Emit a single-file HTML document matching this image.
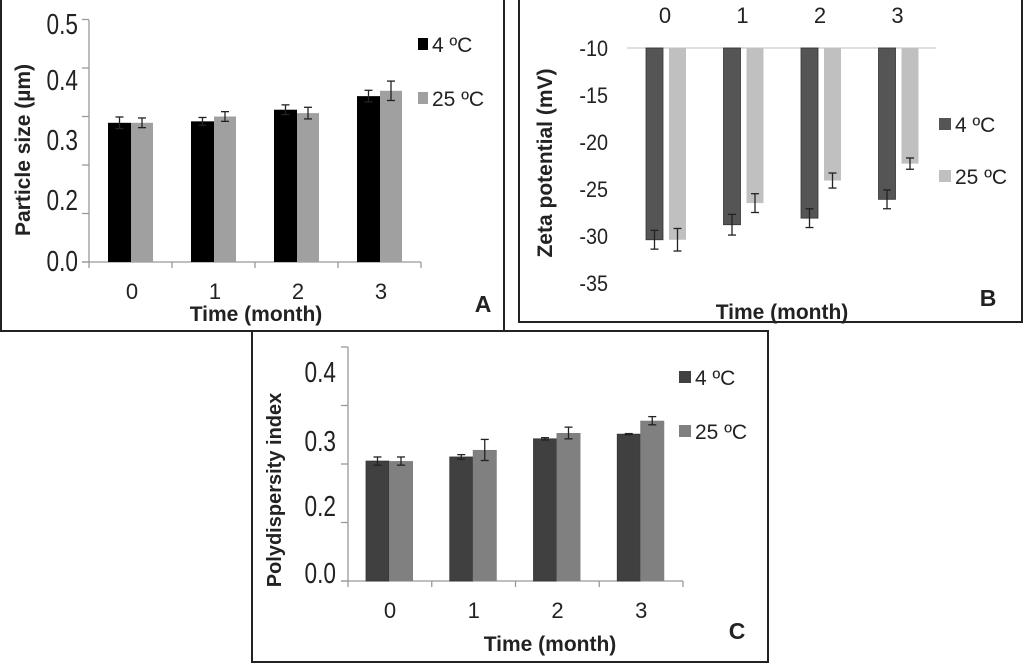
<!DOCTYPE html>
<html><head><meta charset="utf-8"><style>
html,body{margin:0;padding:0;background:#fff;width:1024px;height:664px;overflow:hidden}
svg{display:block;font-family:"Liberation Sans",Arial,sans-serif}
</style></head><body>
<svg id="s" width="1024" height="664" viewBox="0 0 1024 664">
<rect x="1" y="-1" width="503" height="332" fill="none" stroke="#222" stroke-width="2"/>
<rect x="519" y="-1" width="503" height="323" fill="none" stroke="#222" stroke-width="2"/>
<rect x="252" y="331" width="516" height="331" fill="#fff" stroke="#222" stroke-width="2"/>
</svg>
<script>
const months=["0","1","2","3"];
const aCold=[0.287,0.290,0.314,0.342], aWarm=[0.287,0.300,0.307,0.353];
const aColdErr=[0.012,0.008,0.01,0.012], aWarmErr=[0.01,0.01,0.012,0.02];
const bCold=[-30.4,-28.8,-28.1,-26.1], bWarm=[-30.4,-26.5,-24.1,-22.3];
const bColdErr=[1.0,1.1,1.0,1.0], bWarmErr=[1.2,1.0,0.8,0.6];
const cCold=[0.205,0.212,0.243,0.251], cWarm=[0.205,0.224,0.253,0.274];
const cColdErr=[0.007,0.004,0.002,0.001], cWarmErr=[0.007,0.018,0.01,0.007];
const aTicks=["0.5","0.4","0.3","0.2","0.0"], bTicks=["-10","-15","-20","-25","-30","-35"], cTicks=["0.4","0.3","0.2","0.0"];
const S=document.getElementById('s'),NS="http://www.w3.org/2000/svg";
function mk(t,a,txt){const e=document.createElementNS(NS,t);for(const k in a)e.setAttribute(k,a[k]);if(txt!==undefined)e.textContent=txt;S.appendChild(e);return e;}
function txt(x,y,s,o){o=o||{};const e=mk('text',{x:x,y:y,'font-size':o.fs||20,'text-anchor':o.anchor||'start','font-weight':o.bold?'bold':'normal',fill:o.fill||'#222'},s);if(o.rot)e.setAttribute('transform','rotate(-90 '+x+' '+y+')');if(o.sx)e.setAttribute('transform','translate('+x+' '+y+') scale('+o.sx+' 1) translate('+(-x)+' '+(-y)+')');return e;}
function ebar(x,y1,y2,p){
 let e=mk('line',{x1:x,x2:x,y1:y1,y2:y2,stroke:'#222','stroke-width':1.3});
 
 [y1,y2].forEach(y=>{let c=mk('line',{x1:x-4,x2:x+4,y1:y,y2:y,stroke:'#222','stroke-width':1.3});});
}
// Panel A
(function(){
 const x0=89,x1=421,y0=262,per=485; const Y=v=>y0-v*per; const gw=(x1-x0)/4;
 mk('line',{x1:x0,x2:x0,y1:20,y2:y0,stroke:'#999','stroke-width':1.3});
 mk('line',{x1:82,x2:x1,y1:y0,y2:y0,stroke:'#999','stroke-width':1.3});
 for(let i=0;i<6;i++){mk('line',{x1:82,x2:x0,y1:Y(i*0.1),y2:Y(i*0.1),stroke:'#999','stroke-width':1.3});}
 for(let i=0;i<=4;i++){mk('line',{x1:x0+i*gw,x2:x0+i*gw,y1:y0,y2:y0+6,stroke:'#999','stroke-width':1.3});}
 const ly=[34,90,150,210,271];
 aTicks.forEach((t,i)=>{const e=txt(78,ly[i],t,{fs:29,anchor:'end',sx:0.78});});
 months.forEach((m,i)=>{const cx=x0+gw*i+42;
  let b=mk('rect',{x:cx-23,y:Y(aCold[i]),width:23,height:y0-Y(aCold[i]),fill:'#000'});
  b=mk('rect',{x:cx,y:Y(aWarm[i]),width:22,height:y0-Y(aWarm[i]),fill:'#a0a0a0'});
  ebar(cx-11.5,Y(aCold[i]+aColdErr[i]),Y(aCold[i]-aColdErr[i]),'a-4c');
  ebar(cx+11,Y(aWarm[i]+aWarmErr[i]),Y(aWarm[i]-aWarmErr[i]),'a-25c');
  const t=txt(cx+1,299,m,{fs:22,anchor:'middle'});
 });
 let t=txt(256,321,'Time (month)',{fs:21,bold:true,anchor:'middle'});
 t=txt(30,150,'Particle size (µm)',{fs:21,bold:true,anchor:'middle',rot:true});
 t=txt(483,312,'A',{fs:23,bold:true,anchor:'middle'});
 let r=mk('rect',{x:418,y:38,width:10,height:12,fill:'#000'});
 t=txt(432,52,'4 ºC',{fs:21});
 r=mk('rect',{x:418,y:92,width:10,height:12,fill:'#a0a0a0'});
 t=txt(432,106,'25 ºC',{fs:21});
})();
// Panel B
(function(){
 const y0=48,per=9.4; const Y=v=>y0+(-10-v)*per; const gs=77.5;
 mk('line',{x1:627,x2:936,y1:y0,y2:y0,stroke:'#ccc','stroke-width':1.3});
 bTicks.forEach((t,i)=>{const e=txt(608,Y(+t)+8,t,{fs:22,anchor:'end',sx:0.9});});
 months.forEach((m,i)=>{const c=665+gs*i;
  let b=mk('rect',{x:c-19,y:y0,width:17,height:Y(bCold[i])-y0,fill:'#555',stroke:'#333','stroke-width':0.8});
  b=mk('rect',{x:c+4,y:y0,width:17,height:Y(bWarm[i])-y0,fill:'#c0c0c0'});
  ebar(c-10.5,Y(bCold[i]+bColdErr[i]),Y(bCold[i]-bColdErr[i]),'b-4c');
  ebar(c+12.5,Y(bWarm[i]+bWarmErr[i]),Y(bWarm[i]-bWarmErr[i]),'b-25c');
  const t=txt(c,23,m,{fs:22,anchor:'middle'});
 });
 let t=txt(782,319,'Time (month)',{fs:21,bold:true,anchor:'middle'});
 t=txt(552,163,'Zeta potential (mV)',{fs:21,bold:true,anchor:'middle',rot:true});
 t=txt(988,306,'B',{fs:23,bold:true,anchor:'middle'});
 let r=mk('rect',{x:939,y:118,width:12,height:12,fill:'#555'});
 t=txt(955,132,'4 ºC',{fs:21});
 r=mk('rect',{x:939,y:170,width:12,height:12,fill:'#c0c0c0'});
 t=txt(955,184,'25 ºC',{fs:21});
})();
// Panel C
(function(){
 const x0=348,x1=683,y0=581,per=585; const Y=v=>y0-v*per; const gw=(x1-x0)/4;
 mk('line',{x1:x0,x2:x0,y1:347,y2:y0,stroke:'#999','stroke-width':1.3});
 mk('line',{x1:341,x2:x1,y1:y0,y2:y0,stroke:'#999','stroke-width':1.3});
 for(let i=0;i<5;i++){mk('line',{x1:341,x2:x0,y1:Y(i*0.1),y2:Y(i*0.1),stroke:'#999','stroke-width':1.3});}
 for(let i=0;i<=4;i++){mk('line',{x1:x0+i*gw,x2:x0+i*gw,y1:y0,y2:y0+6,stroke:'#999','stroke-width':1.3});}
 const ly=[382,451,516,583];
 cTicks.forEach((t,i)=>{const e=txt(336,ly[i],t,{fs:29,anchor:'end',sx:0.78});});
 months.forEach((m,i)=>{const cx=x0+gw*i+41;
  let b=mk('rect',{x:cx-23,y:Y(cCold[i]),width:23,height:y0-Y(cCold[i]),fill:'#404040',stroke:'#333','stroke-width':0.8});
  b=mk('rect',{x:cx,y:Y(cWarm[i]),width:24,height:y0-Y(cWarm[i]),fill:'#808080'});
  ebar(cx-11.5,Y(cCold[i]+cColdErr[i]),Y(cCold[i]-cColdErr[i]),'c-4c');
  ebar(cx+12,Y(cWarm[i]+cWarmErr[i]),Y(cWarm[i]-cWarmErr[i]),'c-25c');
  const t=txt(cx+1,618,m,{fs:22,anchor:'middle'});
 });
 let t=txt(550,651,'Time (month)',{fs:21,bold:true,anchor:'middle'});
 t=txt(281,490,'Polydispersity index',{fs:20,bold:true,anchor:'middle',rot:true});
 t=txt(737,639,'C',{fs:23,bold:true,anchor:'middle'});
 let r=mk('rect',{x:679,y:371,width:12,height:12,fill:'#404040'});
 t=txt(695,385,'4 ºC',{fs:21});
 r=mk('rect',{x:679,y:425,width:12,height:12,fill:'#808080'});
 t=txt(695,439,'25 ºC',{fs:21});
})();
</script>
</body></html>
